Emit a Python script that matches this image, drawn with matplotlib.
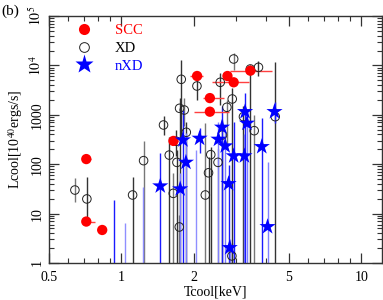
import matplotlib
matplotlib.use("Agg")
import matplotlib.pyplot as plt
from matplotlib.lines import Line2D
from matplotlib.ticker import FixedLocator, FuncFormatter, NullFormatter
import numpy as np

plt.rcParams['font.family'] = ['Liberation Serif', 'DejaVu Serif']
plt.rcParams['mathtext.fontset'] = 'stix'

# ---------------- data ----------------
# SCC (filled red circles) with horizontal error ranges
scc_T = [0.715, 0.715, 0.833, 1.65, 2.07, 2.34, 2.34, 2.77, 2.94, 3.45]
scc_L = [127, 6.9, 4.66, 296, 6100, 2180, 1156, 6100, 4550, 7820]
scc_Tlo = [0.715, 0.715, 0.79, 1.59, 1.94, 2.2, 2.0, 2.72, 2.39, 2.84]
scc_Thi = [0.75, 0.78, 0.833, 1.73, 2.2, 2.67, 2.8, 2.82, 3.39, 4.25]

# XD (open circles) with vertical ranges
xd_T = [0.641, 0.719, 1.115, 1.239, 1.50, 1.585, 1.647, 1.695, 1.706, 1.745,
        1.75, 1.778, 1.83, 1.866, 2.067, 2.24, 2.31, 2.36, 2.53, 2.585,
        2.64, 2.755, 2.89, 2.90, 2.94, 3.23, 3.45, 3.58, 3.73, 4.38]
xd_L = [30, 19.8, 23.8, 118, 622, 153, 25.7, 291, 109, 5.36,
        1353, 5230, 1250, 443, 3830, 23.8, 67, 156, 109, 4550,
        390, 1420, 1.39, 2090, 13480, 916, 8460, 477, 9140, 916]
xd_lo = [17.2, 7.5, 0.5, 0.5, 390, 0.5, 0.5, 150, 0.5, 0.5,
         0.5, 355, 600, 0.5, 2000, 0.5, 0.5, 0.5, 0.5, 1580,
         0.5, 200, 0.5, 0.5, 8000, 0.5, 0.5, 0.5, 6000, 0.5]
xd_hi = [52.6, 55, 56, 300, 940, 362, 66, 500, 194, 9.4,
         2180, 12900, 2200, 700, 5900, 680, 140, 220, 200, 6900,
         800, 2000, 2.5, 3500, 17700, 1500, 10000, 1000, 12000, 11800]

# nXD (blue stars) with vertical ranges
nxd_T = [1.454, 1.76, 1.807, 1.86, 2.12, 2.54, 2.63, 2.71, 2.80, 2.83,
         2.94, 3.26, 3.28, 3.34, 3.85, 4.07, 4.35]
nxd_L = [36.2, 31.5, 309, 109, 334, 319, 559, 234, 40.3, 2.04,
         147, 147, 1156, 673, 226, 5.43, 1156]
nxd_lo = [0.5, 0.5, 0.5, 0.5, 170, 0.5, 0.5, 0.5, 0.5, 0.5,
          0.5, 0.5, 0.5, 0.5, 0.5, 0.5, 670]
nxd_hi = [168, 66, 1250, 425, 540, 700, 1480, 500, 96, 3,
          720, 400, 2700, 1200, 850, 112, 1850]

# nXD objects below the plotted range (only their upper ranges are visible)
lim_T = [0.93, 1.04, 1.23, 2.05]
lim_hi = [19, 6.5, 35, 194]

xticks = [0.5, 1, 2, 5, 10]
yticks = [1, 10, 100, 1000, 1e4, 1e5]

# ---------------- plot ----------------
fig = plt.figure(figsize=(3.83, 3.0), dpi=100)
ax = fig.add_axes([49/383, 1-263/300, 333/383, 247/300])
ax.set_xscale('log')
ax.set_yscale('log')
ax.set_xlim(0.5, 12.2)
ax.set_ylim(1, 1e5)

# XD error lines
for i, (t, lo, hi) in enumerate(zip(xd_T, xd_lo, xd_hi)):
    c = '#333333' if i % 3 else '#777777'
    ax.vlines(t, lo, hi, color=c, lw=1.0, zorder=2)
# nXD error lines
for i, (t, lo, hi) in enumerate(zip(nxd_T, nxd_lo, nxd_hi)):
    c = '#1a1aff' if i % 2 == 0 else '#7f7fff'
    ax.vlines(t, lo, hi, color=c, lw=1.0, zorder=2)
for i, (t, hi) in enumerate(zip(lim_T, lim_hi)):
    c = '#1a1aff' if i == 0 else '#8f8fff'
    ax.vlines(t, 0.5, hi, color=c, lw=1.0, zorder=2)

# SCC horizontal errors
ax.hlines(scc_L, scc_Tlo, scc_Thi, color='#ff4040', lw=1.0, zorder=3)

ax.scatter(xd_T, xd_L, s=38, facecolors='none', edgecolors='#222222',
           linewidths=0.7, zorder=4)
ax.scatter(scc_T, scc_L, s=55, c='#ff0000', edgecolors='none', zorder=5)
ax.scatter(nxd_T, nxd_L, s=150, c='#0000ff', marker='*', edgecolors='none',
           zorder=6)

# ticks
ax.xaxis.set_major_locator(FixedLocator(xticks))
ax.xaxis.set_major_formatter(FuncFormatter(lambda v, p: f"{v:g}"))
ax.xaxis.set_minor_formatter(NullFormatter())


def yfmt(v, p):
    if v >= 1e4:
        return r"$10^{%d}$" % int(round(np.log10(v)))
    return f"{int(v)}"


ax.yaxis.set_major_locator(FixedLocator(yticks))
ax.yaxis.set_major_formatter(FuncFormatter(yfmt))
ax.yaxis.set_minor_formatter(NullFormatter())
ax.tick_params(which='both', direction='in', top=True, right=True,
               colors='#333333', labelcolor='black', labelsize=10)
ax.tick_params(which='major', length=7, width=0.9)
ax.tick_params(axis='x', which='major', pad=6)
ax.tick_params(which='minor', length=3.5, width=0.8)
for lab in ax.get_yticklabels():
    lab.set_rotation(90)
    lab.set_va('center')
for s in ax.spines.values():
    s.set_color('#333333')
    s.set_linewidth(1.0)

ax.set_xlabel('Tcool[keV]', fontsize=10, labelpad=1)
ax.set_ylabel(r'Lcool[10$^{40}$ergs/s]', fontsize=10, labelpad=2)
fig.text(0.003, 0.985, '(b)', fontsize=11, va='top', ha='left')

handles = [
    Line2D([], [], ls='none', marker='o', ms=8, mfc='#ff0000', mec='none'),
    Line2D([], [], ls='none', marker='o', ms=7, mfc='none', mec='#222222', mew=0.7),
    Line2D([], [], ls='none', marker='*', ms=14, mfc='#0000ff', mec='none'),
]
leg = ax.legend(handles, ['SCC', 'XD', 'nXD'], loc='upper left',
                bbox_to_anchor=(0.045, 1.02), frameon=False, fontsize=10.5,
                handlelength=1.0, handletextpad=1.6, labelspacing=0.3,
                labelcolor=['#ff0000', 'black', '#0000ff'])

fig.savefig('out.png', dpi=100)
